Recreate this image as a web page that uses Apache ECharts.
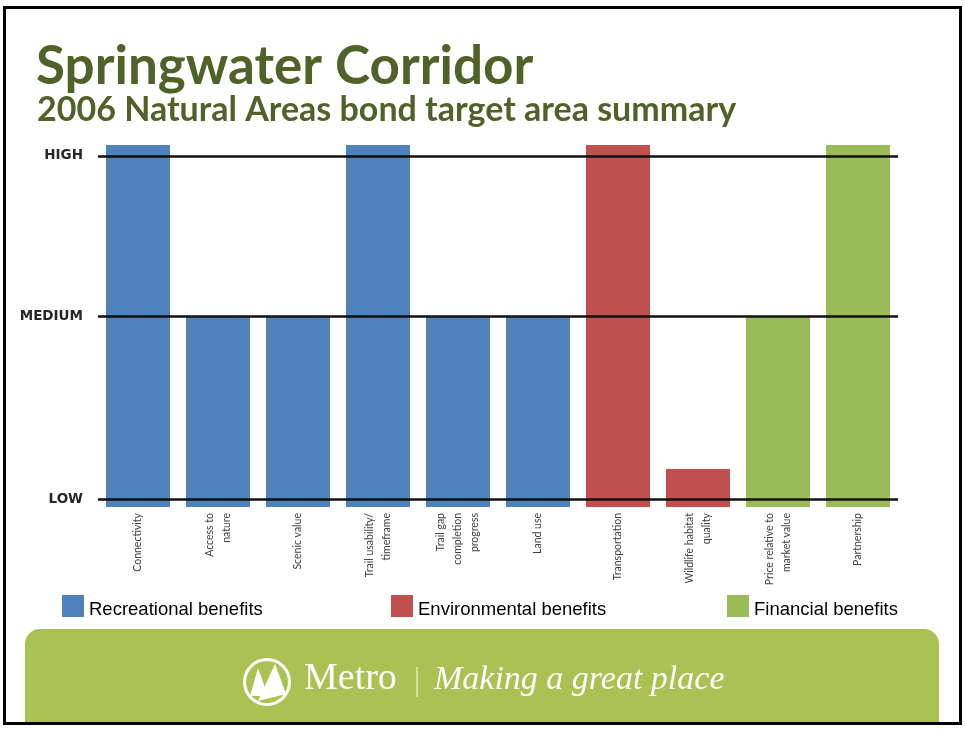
<!DOCTYPE html>
<html>
<head>
<meta charset="utf-8">
<script src="https://cdn.jsdelivr.net/npm/echarts@6/dist/echarts.min.js"></script>
<style>
html,body{margin:0;padding:0;background:#fff;}
#main{width:965px;height:730px;}
</style>
</head>
<body>
<div id="main"></div>
<script>
// ---- data ----
const categories = ['Connectivity', 'Access to\nnature', 'Scenic value', 'Trail usability/\ntimeframe',
  'Trail gap\ncompletion\nprogress', 'Land use', 'Transportation', 'Wildlife habitat\nquality',
  'Price relative to\nmarket value', 'Partnership'];
const recreational  = [100, 52.6, 52.6, 100, 52.6, 52.6, '-', '-', '-', '-'];
const environmental = ['-', '-', '-', '-', '-', '-', 100, 10.5, '-', '-'];
const financial     = ['-', '-', '-', '-', '-', '-', '-', '-', 52.6, 100];
const levelLabels = ['LOW', 'MEDIUM', 'HIGH'];
const levelValues = [2.1, 52.6, 97];
const seriesNames = ['Recreational benefits', 'Environmental benefits', 'Financial benefits'];

const chart = echarts.init(document.getElementById('main'));
const legendText = {fontFamily: 'Liberation Sans', fontSize: 18.5, color: '#000',
  rich: {t: {fontFamily: 'Liberation Sans', fontSize: 18.5, color: '#000', padding: [8, 0, 0, 0]}}};
function legendAt(name, left) {
  return {data: [name], left: left, top: 595, padding: 0, itemWidth: 22, itemHeight: 22, itemGap: 5,
    icon: 'rect', selectedMode: false, textStyle: legendText, formatter: '{t|{name}}'};
}
const option = {
  animation: false,
  backgroundColor: '#fff',
  title: [
    {text: 'Springwater Corridor', left: 31, top: 35,
      textStyle: {fontFamily: 'Lato', fontWeight: 'bold', fontSize: 53, color: '#4F6228'}},
    {text: '2006 Natural Areas bond target area summary', left: 32, top: 88,
      textStyle: {fontFamily: 'Lato', fontWeight: 'bold', fontSize: 34, color: '#4F6228'}}
  ],
  legend: [legendAt(seriesNames[0], 62), legendAt(seriesNames[1], 391), legendAt(seriesNames[2], 727)],
  grid: {left: 98, right: 67, top: 145, bottom: 223},
  xAxis: {
    type: 'category', data: categories,
    axisLine: {show: false}, axisTick: {show: false},
    axisLabel: {rotate: 90, margin: 6, interval: 0, fontFamily: 'Lato', fontSize: 10.5,
      lineHeight: 17, color: '#404040'}
  },
  yAxis: {type: 'value', min: 0, max: 100, show: false, splitLine: {show: false}},
  series: [
    {name: seriesNames[0], type: 'bar', data: recreational, barWidth: 64, barGap: '-100%',
      itemStyle: {color: '#4F81BD'}},
    {name: seriesNames[1], type: 'bar', data: environmental, barWidth: 64, barGap: '-100%',
      itemStyle: {color: '#C0504D'}},
    {name: seriesNames[2], type: 'bar', data: financial, barWidth: 64, barGap: '-100%',
      itemStyle: {color: '#9BBB59'},
      markLine: {
        silent: true, symbol: 'none', z: 10,
        lineStyle: {color: '#111', width: 2.5, type: 'solid'},
        label: {position: 'start', formatter: p => p.name, color: '#262626', fontFamily: 'DejaVu Sans',
          fontWeight: 'bold', fontSize: 13.5, distance: 15, padding: [3, 0, 0, 0]},
        data: levelValues.map((v, i) => ({name: levelLabels[i], yAxis: v}))
      }}
  ],
  graphic: [
    {type: 'rect', z: -1, shape: {x: 25, y: 629, width: 914, height: 93, r: [15, 15, 0, 0]},
      style: {fill: '#AAC253'}},
    {type: 'circle', z: 5, shape: {cx: 267, cy: 682, r: 24}, style: {fill: '#fff'}},
    {type: 'circle', z: 5, shape: {cx: 267, cy: 682, r: 21}, style: {fill: '#AAC253'}},
    {type: 'polygon', z: 6, shape: {points: [[250, 696], [258, 668], [268, 696]]}, style: {fill: '#fff'}},
    {type: 'polygon', z: 6, shape: {points: [[258, 701], [275, 664], [286, 694]]}, style: {fill: '#fff'}},
    {type: 'text', z: 5, left: 304, top: 660,
      style: {text: 'Metro', font: 'normal 38px "Liberation Serif"', fill: '#fff'}},
    {type: 'line', z: 5, shape: {x1: 417, y1: 667, x2: 417, y2: 697}, style: {stroke: '#fff', lineWidth: 1}},
    {type: 'text', z: 5, left: 434, top: 663,
      style: {text: 'Making a great place', font: 'italic 34px "Liberation Serif"', fill: '#fff'}},
    {type: 'rect', z: 20, shape: {x: 4.5, y: 7.5, width: 956, height: 716},
      style: {fill: 'none', stroke: '#000', lineWidth: 3}}
  ]
};
chart.setOption(option);
</script>
</body>
</html>
